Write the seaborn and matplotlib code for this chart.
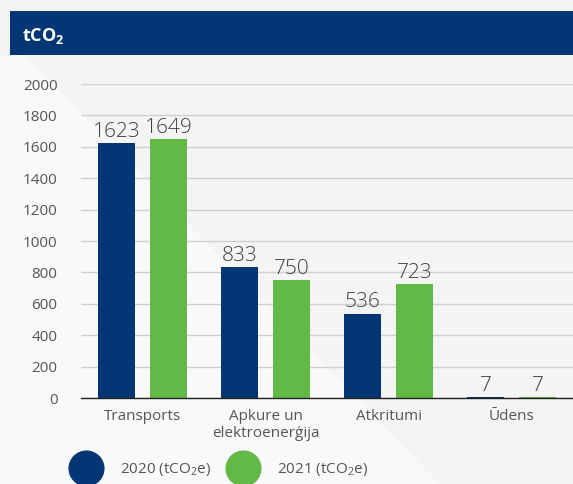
import numpy as np
import matplotlib.pyplot as plt
import seaborn as sns
import pandas as pd
from matplotlib.patches import Rectangle, Polygon
from matplotlib.lines import Line2D

# dati
categories = ['Transports', 'Apkure un\nelektroenerģija', 'Atkritumi', 'Ūdens']
years = ['2020', '2021']
values_2020 = [1623, 833, 536, 7]
values_2021 = [1649, 750, 723, 7]
legend_labels = [r'2020 (tCO$_\mathregular{2}$e)', r'2021 (tCO$_\mathregular{2}$e)']

blue = '#043673'
green = '#62b946'

sns.set_style('white')
plt.rcParams['font.family'] = ['Open Sans', 'DejaVu Sans']
plt.rcParams['mathtext.fontset'] = 'custom'
plt.rcParams['mathtext.rm'] = 'Open Sans'
plt.rcParams['mathtext.bf'] = 'Open Sans:bold'

df = pd.DataFrame({
    'kategorija': categories * 2,
    'gads': [years[0]] * 4 + [years[1]] * 4,
    'vertiba': values_2020 + values_2021,
})

fig = plt.figure(figsize=(5.73, 4.84), dpi=100, facecolor='#f4f4f4')

# fons ar gaišāku diagonāli
fig.patches.append(Polygon([(0, 1 - 55 / 484), (25 / 573, 1 - 55 / 484), (440 / 573, 0), (0, 0)],
                           closed=True, transform=fig.transFigure, facecolor='#f9f9fb',
                           edgecolor='none', zorder=-10))
# virsraksta josla
fig.patches.append(Rectangle((10 / 573, 1 - 55 / 484), 1, 44 / 484, transform=fig.transFigure,
                             facecolor=blue, edgecolor='none', zorder=1))
fig.text(22 / 573, 1 - 36 / 484, r'$\mathbf{tCO_2}$', color='white', fontsize=13,
         va='center', ha='left', zorder=2)

ax = fig.add_axes([81 / 573, 1 - 398 / 484, 1 - 81 / 573, (398 - 84) / 484])
ax.patch.set_alpha(0)

sns.barplot(data=df, x='kategorija', y='vertiba', hue='gads', palette=[blue, green],
            width=0.84, gap=0.29, ax=ax, legend=False, saturation=1, linewidth=0)

for cont in ax.containers:
    ax.bar_label(cont, padding=1, fontsize=15, color='#404040', fontweight='light')

ax.set_ylim(0, 2000)
ax.set_xlim(-0.5, 3.5)
ax.set_yticks(range(0, 2001, 200))
ax.yaxis.grid(True, color='#d0d0d0', linewidth=1)
ax.set_axisbelow(True)
for s in ['left', 'right', 'top']:
    ax.spines[s].set_visible(False)
ax.spines['bottom'].set_color('#222222')
ax.spines['bottom'].set_linewidth(1)
ax.tick_params(axis='both', length=0, labelsize=11, labelcolor='#555555')
ax.tick_params(axis='y', pad=17)
ax.tick_params(axis='x', pad=8)
ax.set_xlabel('')
ax.set_ylabel('')

handles = [Line2D([], [], marker='o', linestyle='none', markersize=25, color=c) for c in [blue, green]]
fig.legend(handles, legend_labels, loc='center left', bbox_to_anchor=(57 / 573, 14 / 484),
           ncol=2, frameon=False, fontsize=11, labelcolor='#555555',
           handletextpad=1.2, columnspacing=1.1)

plt.savefig('out.png', dpi=100, facecolor=fig.get_facecolor())
